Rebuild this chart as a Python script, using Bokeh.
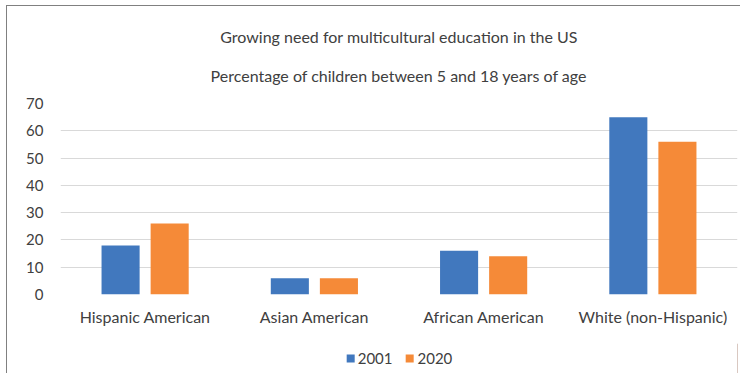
from bokeh.plotting import figure
from bokeh.layouts import column
from bokeh.models import ColumnDataSource, FactorRange, Range1d, Legend, LegendItem, Title, SingleIntervalTicker
from bokeh.transform import dodge
from bokeh.embed import file_html
from bokeh.resources import INLINE

categories = ["Hispanic American", "Asian American", "African American", "White (non-Hispanic)"]
years = ["2001", "2020"]
values_2001 = [18, 6, 16, 65]
values_2020 = [26, 6, 14, 56]
colors = ["#4178BE", "#F58A38"]

source = ColumnDataSource(data=dict(cat=categories, y2001=values_2001, y2020=values_2020))

FONT = "Lato"
TXT = "#404040"

p = figure(x_range=FactorRange(*categories), y_range=Range1d(0, 70),
           frame_width=677, frame_height=191, output_backend="svg", toolbar_location=None,
           min_border_left=53, min_border_right=3, min_border_top=97, min_border_bottom=49)

p.vbar(x=dodge("cat", -0.145, range=p.x_range), top="y2001", width=0.225, source=source,
       fill_color=colors[0], line_color=None)
p.vbar(x=dodge("cat", 0.145, range=p.x_range), top="y2020", width=0.225, source=source,
       fill_color=colors[1], line_color=None)

p.add_layout(Title(text="Percentage of children between 5 and 18 years of age", align="center",
                   text_font=FONT, text_font_size="16px", text_font_style="normal",
                   text_color=TXT, standoff=37), "above")
p.add_layout(Title(text="Growing need for multicultural education in the US", align="center",
                   text_font=FONT, text_font_size="16px", text_font_style="normal",
                   text_color=TXT, standoff=0), "above")

p.x_range.range_padding = 0
p.xgrid.grid_line_color = None
p.ygrid.grid_line_color = "#D9D9D9"
p.ygrid.grid_line_width = 1
p.yaxis.ticker = SingleIntervalTicker(interval=10)
for ax in (p.xaxis[0], p.yaxis[0]):
    ax.axis_line_color = None
    ax.major_tick_line_color = None
    ax.minor_tick_line_color = None
    ax.major_tick_out = 0
    ax.major_tick_in = 0
    ax.major_label_text_font = FONT
    ax.major_label_text_color = TXT
p.xaxis.major_label_text_font_size = "16px"
p.yaxis.major_label_text_font_size = "15px"
p.yaxis.major_label_standoff = 13
p.xaxis.major_label_standoff = 12
p.outline_line_color = None

# legend strip below the chart
pl = figure(x_range=Range1d(0, 1), y_range=Range1d(0, 1), frame_width=677, frame_height=30,
            output_backend="svg", toolbar_location=None, x_axis_location=None, y_axis_location=None,
            min_border_left=41, min_border_right=15, min_border_top=0, min_border_bottom=0)
pl.grid.visible = False
pl.outline_line_color = None
l1 = pl.vbar(x=[5], top=[5], width=0.1, fill_color=colors[0], line_color=None)
l2 = pl.vbar(x=[5], top=[5], width=0.1, fill_color=colors[1], line_color=None)
legend = Legend(items=[LegendItem(label=years[0], renderers=[l1]),
                       LegendItem(label=years[1], renderers=[l2])],
                orientation="horizontal", location="center",
                label_text_font=FONT, label_text_font_size="15px", label_text_color=TXT,
                glyph_width=10, glyph_height=10, label_standoff=3, spacing=12,
                border_line_color=None, background_fill_alpha=0, margin=0, padding=2)
pl.add_layout(legend)

layout = column(p, pl, spacing=0)
layout.styles = {"border-top": "1px solid #808080", "border-left": "1px solid #808080",
                 "margin-left": "6px", "margin-top": "5px"}

open("out.html", "w").write(file_html(layout, INLINE))
